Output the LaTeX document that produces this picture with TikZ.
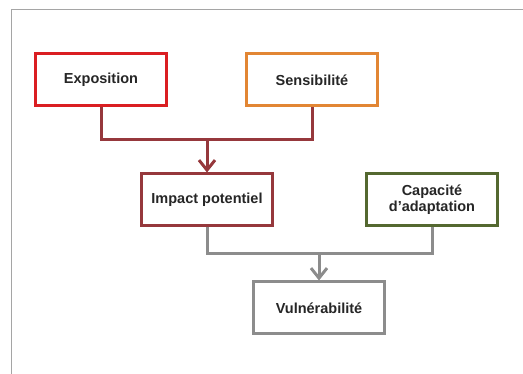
\documentclass[tikz,border=0pt]{standalone}
\usepackage{fontspec}
\setmainfont{Liberation Sans}
\usetikzlibrary{positioning,arrows.meta}

\definecolor{expoRed}{RGB}{218,30,34}
\definecolor{sensOrange}{RGB}{226,134,52}
\definecolor{impactRed}{RGB}{150,56,60}
\definecolor{capGreen}{RGB}{84,104,48}
\definecolor{vulnGray}{RGB}{140,140,140}
\definecolor{frameGray}{RGB}{165,165,165}

\begin{document}
\begin{tikzpicture}[x=1pt,y=1pt,line width=3pt,
    box/.style={rectangle,draw,fill=white,minimum width=131pt,minimum height=52pt,align=center,
        font=\fontsize{14.5}{16}\selectfont\bfseries,text=black!85},
    feed/.style={-{Straight Barb[length=10pt,width=16pt]}}]
    \useasboundingbox (0,0) rectangle (523,374);
    \draw[frameGray,line width=1pt] (11,0) -- (11,364) -- (523,364);

    \node[box,draw=expoRed] (expo) at (101,294) {Exposition};
    \node[box,draw=sensOrange] (sens) [right=77pt of expo] {Sensibilité};
    \node[box,draw=impactRed] (impact) [below=65pt of expo, xshift=106pt] {Impact potentiel};
    \node[box,draw=capGreen] (capa) [right=91pt of impact] {Capacité\\d'adaptation};
    \node[box,draw=vulnGray] (vuln) [below=53pt of impact, xshift=112pt] {Vulnérabilité};

    \coordinate[above=33pt of impact.north] (j1);
    \coordinate[above=27pt of vuln.north] (j2);

    \draw[impactRed] (expo) |- (j1) -| (sens);
    \draw[impactRed,feed] (j1) -- (impact);
    \draw[vulnGray] (impact) |- (j2) -| (capa);
    \draw[vulnGray,feed] (j2) -- (vuln);
\end{tikzpicture}
\end{document}
